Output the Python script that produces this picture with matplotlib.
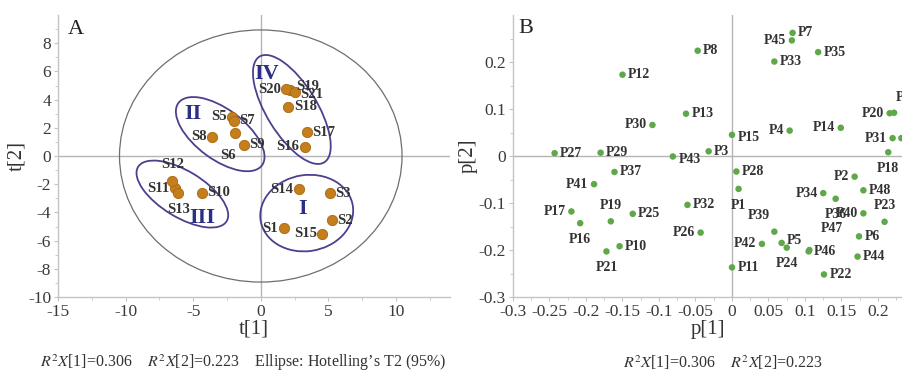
import matplotlib
matplotlib.use('Agg')
import matplotlib.pyplot as plt
from matplotlib.patches import Ellipse
import numpy as np

plt.rcParams['font.family'] = ['Liberation Serif', 'DejaVu Serif']
plt.rcParams['mathtext.fontset'] = 'stix'
plt.rcParams['axes.unicode_minus'] = False

# ---- panel A: scores ----
s_names = ['S1', 'S2', 'S3', 'S14', 'S15',
           'S5', 'S7', 'S6', 'S8', 'S9',
           'S10', 'S11', 'S12', 'S13',
           'S16', 'S17', 'S18', 'S19', 'S20', 'S21']
s_t1 = [1.7, 5.25, 5.1, 2.8, 4.55,
        -2.1, -2.0, -1.9, -3.6, -1.25,
        -4.35, -6.35, -6.55, -6.1,
        3.25, 3.4, 2.05, 2.2, 1.9, 2.5]
s_t2 = [-5.13, -4.56, -2.65, -2.35, -5.53,
        2.8, 2.5, 1.65, 1.35, 0.8,
        -2.6, -2.3, -1.77, -2.65,
        0.65, 1.7, 3.5, 4.7, 4.75, 4.55]
s_pos = ['l', 'r', 'r', 'l', 'l',
         'l', 'r', 's6', 'l', 'r',
         'r', 'l', 't', 'b',
         'l', 'r', 'r', 'ru', 'l', 'rd']

groups = ['I', 'II', 'III', 'IV']
group_center = [(3.4, -4.05), (-3.0, 1.55), (-5.8, -2.7), (2.3, 3.3)]
group_size = [(6.9, 5.4), (7.6, 3.6), (7.6, 3.3), (8.9, 3.7)]
group_angle = [8, -35, -30, -57]
group_label_xy = [(3.1, -3.75), (-5.0, 3.0), (-4.3, -4.4), (0.4, 5.8)]

t2_radius = (10.45, 8.94)

# ---- panel B: loadings ----
p_names = ['P1', 'P2', 'P3', 'P4', 'P5', 'P6', 'P7', 'P8', 'P9', 'P10',
           'P11', 'P12', 'P13', 'P14', 'P15', 'P16', 'P17', 'P18', 'P19', 'P20',
           'P21', 'P22', 'P23', 'P24', 'P25', 'P26', 'P27', 'P28', 'P29', 'P30',
           'P31', 'P32', 'P33', 'P34', 'P35', 'P36', 'P37', 'P38', 'P39', 'P40',
           'P41', 'P42', 'P43', 'P44', 'P45', 'P46', 'P47', 'P48']
p_1 = [0.009, 0.168, -0.032, 0.079, 0.068, 0.174, 0.083, -0.047, 0.232, -0.154,
       0.0, -0.150, -0.063, 0.149, 0.0, -0.208, -0.220, 0.214, -0.166, 0.216,
       -0.172, 0.126, 0.209, 0.075, -0.136, -0.043, -0.243, 0.006, -0.180, -0.109,
       0.220, -0.061, 0.058, 0.125, 0.118, 0.142, -0.161, 0.222, 0.058, 0.180,
       -0.189, 0.041, -0.081, 0.172, 0.082, 0.105, 0.106, 0.180]
p_2 = [-0.070, -0.044, 0.010, 0.054, -0.185, -0.171, 0.262, 0.224, 0.038, -0.192,
       -0.237, 0.173, 0.090, 0.060, 0.045, -0.143, -0.118, 0.008, -0.139, 0.091,
       -0.203, -0.252, -0.140, -0.195, -0.123, -0.163, 0.006, -0.033, 0.007, 0.066,
       0.038, -0.104, 0.201, -0.079, 0.221, -0.091, -0.034, 0.092, -0.161, -0.122,
       -0.060, -0.187, -0.001, -0.214, 0.246, -0.203, -0.200, -0.073]
p_pos = ['b', 'l', 'r', 'l', 'ru', 'r', 'r', 'r', 'ru', 'r',
         'r', 'r', 'r', 'l', 'rd', 'b', 'l', 'b', 't', 'l',
         'b', 'r', 't', 'b', 'r', 'l', 'r', 'r', 'r', 'l',
         'l', 'r', 'r', 'l', 'r', 'b', 'r', 'tr', 'lu', 'l',
         'l', 'l', 'rd', 'r', 'l', 'r', 'tr2', 'r']

r2_text = r'$R^2X$[1]=0.306    $R^2X$[2]=0.223'

# label offsets in points
offsets = {
    'r': (4, 0, 'left', 'center'),
    'l': (-4, 0, 'right', 'center'),
    't': (0, 7, 'center', 'bottom'),
    'b': (0, -7, 'center', 'top'),
    'ru': (4, 2, 'left', 'center'),
    'rd': (4, -2, 'left', 'center'),
    'lu': (-3, 7, 'right', 'bottom'),
    'tr': (1, 6, 'left', 'bottom'),
    'tr2': (8, 11, 'left', 'bottom'),
    's6': (-5, -12, 'center', 'top'),
}

fig = plt.figure(figsize=(9.03, 3.71), dpi=100)
axA = fig.add_axes([58 / 903, 74 / 371, 392 / 903, 282 / 371])
axB = fig.add_axes([513 / 903, 74 / 371, 390 / 903, 282 / 371])

spine_c = '#c4c4c4'
tick_c = '#3a3a3a'
for ax in (axA, axB):
    for side in ('top', 'right'):
        ax.spines[side].set_visible(False)
    for side in ('left', 'bottom'):
        ax.spines[side].set_color(spine_c)
        ax.spines[side].set_linewidth(1.0)
    ax.tick_params(colors=spine_c, labelcolor=tick_c, labelsize=12.5, length=3, width=0.8, pad=2)
    ax.tick_params(which='minor', colors=spine_c, length=2, width=0.6)
    ax.axhline(0, color='#b5b5b5', lw=1, zorder=1)
    ax.axvline(0, color='#b5b5b5', lw=1, zorder=1)

# panel A
axA.set_xlim(-15, 14)
axA.set_ylim(-10, 10)
axA.set_xticks(np.arange(-15, 11, 5))
axA.set_yticks(np.arange(-10, 9, 2))
axA.set_xticks(np.arange(-15, 14, 2.5), minor=True)
axA.set_yticks(np.arange(-10, 10, 1), minor=True)

axA.add_patch(Ellipse((0, 0), 2 * t2_radius[0], 2 * t2_radius[1], fill=False,
                      ec='#6e6e6e', lw=0.9, zorder=2))
for c, sz, ang, g, lxy in zip(group_center, group_size, group_angle, groups, group_label_xy):
    axA.add_patch(Ellipse(c, sz[0], sz[1], angle=ang, fill=False,
                          ec='#4e3f8e', lw=1.3, zorder=3))
    axA.text(lxy[0], lxy[1], g, color='#2b2f86', fontsize=16, fontweight='bold',
             ha='center', va='center', zorder=5)

axA.scatter(s_t1, s_t2, s=55, color='#c47f1c', edgecolors='#a86612', linewidths=0.6, zorder=4)
for n, x, y, p in zip(s_names, s_t1, s_t2, s_pos):
    dx, dy, ha, va = offsets[p]
    axA.annotate(n, (x, y), xytext=(dx, dy), textcoords='offset points', ha=ha, va=va,
                 fontsize=10.5, fontweight='bold', color='#333333', zorder=5)

axA.text(-14.3, 9.0, 'A', fontsize=16, color='#222222', ha='left', va='center')
axA.set_xlabel('t[1]', fontsize=15, color='#333333', labelpad=0)
axA.set_ylabel('t[2]', fontsize=15, color='#333333', labelpad=1)
fig.text(40 / 903, 1 - 363 / 371, r2_text + '    Ellipse: Hotelling\u2019s T2 (95%)',
         fontsize=11.5, color='#333333', ha='left', va='center')

# panel B
axB.set_xlim(-0.3, -0.3 + 390 / 730)
axB.set_ylim(-0.3, 0.3)
axB.set_xticks(np.arange(-0.3, 0.21, 0.05))
axB.set_xticklabels(['-0.3', '-0.25', '-0.2', '-0.15', '-0.1', '-0.05', '0',
                     '0.05', '0.1', '0.15', '0.2'])
axB.set_yticks([-0.3, -0.2, -0.1, 0, 0.1, 0.2])
axB.set_yticklabels(['-0.3', '-0.2', '-0.1', '0', '0.1', '0.2'])
axB.set_xticks(np.arange(-0.3, 0.24, 0.025), minor=True)
axB.set_yticks(np.arange(-0.3, 0.3, 0.05), minor=True)

axB.scatter(p_1, p_2, s=22, color='#5fa84a', edgecolors='none', zorder=4, clip_on=False)
for n, x, y, p in zip(p_names, p_1, p_2, p_pos):
    dx, dy, ha, va = offsets[p]
    axB.annotate(n, (x, y), xytext=(dx, dy), textcoords='offset points', ha=ha, va=va,
                 fontsize=10, fontweight='bold', color='#333333', zorder=5)

axB.text(-0.293, 0.272, 'B', fontsize=16, color='#222222', ha='left', va='center')
axB.set_xlabel('p[1]', fontsize=15, color='#333333', labelpad=0)
axB.set_ylabel('p[2]', fontsize=15, color='#333333', labelpad=1)
fig.text(723 / 903, 1 - 363 / 371, r2_text, fontsize=11.5, color='#333333',
         ha='center', va='center')

fig.savefig('out.png', dpi=100)
